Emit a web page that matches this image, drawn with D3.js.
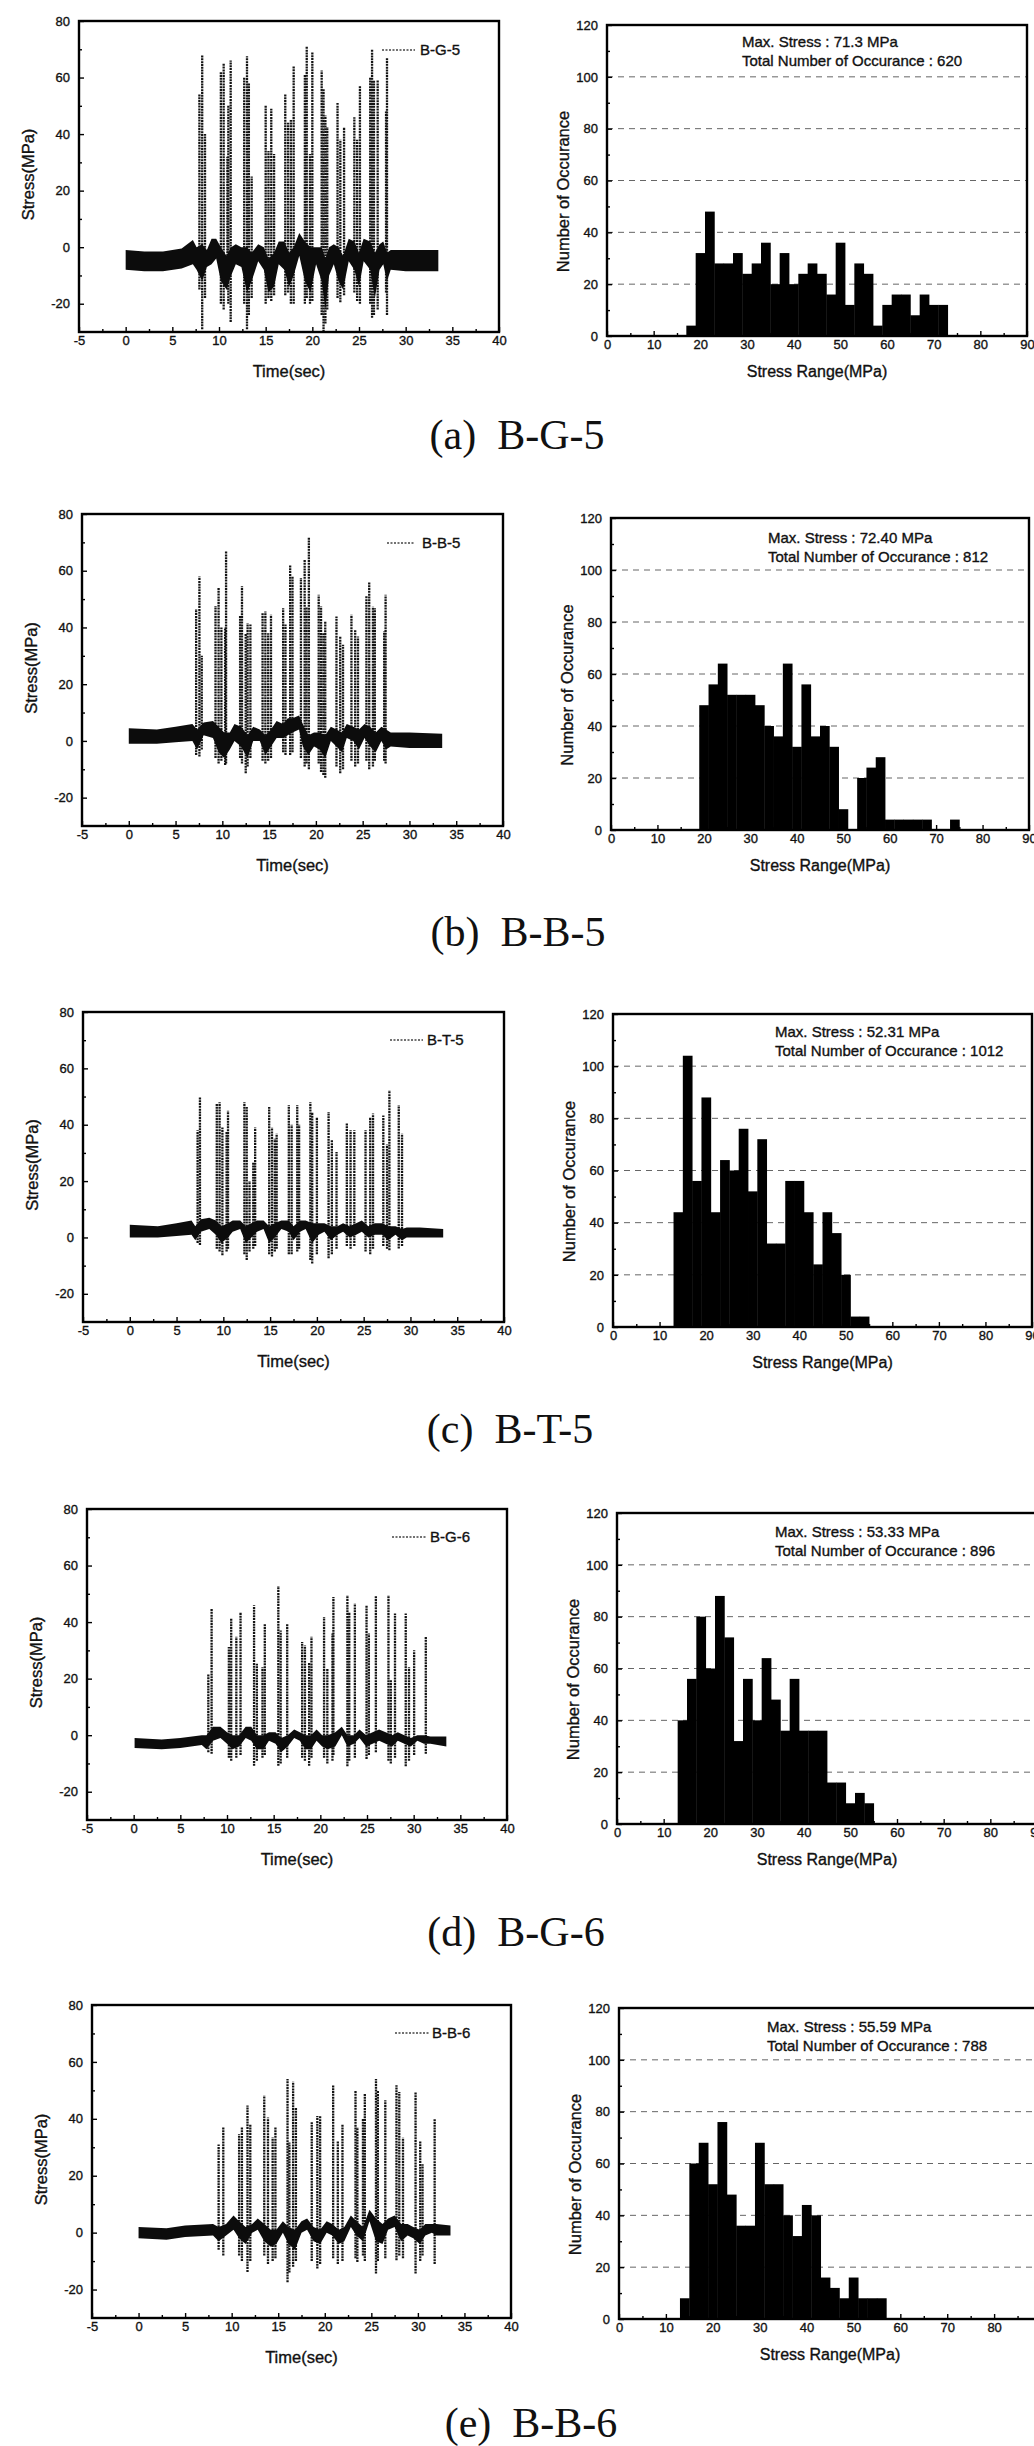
<!DOCTYPE html>
<html><head><meta charset="utf-8">
<script src="https://cdn.jsdelivr.net/npm/d3@7"></script>
<style>body{margin:0;background:#fff}svg{display:block}</style>
</head><body>
<script>
// ---------------- DATA ----------------
const timeXTicks = [-5,0,5,10,15,20,25,30,35,40];
const timeXMinor = [-2.5,2.5,7.5,12.5,17.5,22.5,27.5,32.5,37.5];
const timeYTicks = [-20,0,20,40,60,80];
const timeYMinor = [-10,10,30,50,70];
const histXTicks = [0,10,20,30,40,50,60,70,80,90];
const histXMinor = [5,15,25,35,45,55,65,75,85];
const histYTicks = [0,20,40,60,80,100,120];
const histYMinor = [10,30,50,70,90,110];
const histGrid = [20,40,60,80,100];
const binWidth = 2;

const seriesNames = ["B-G-5","B-B-5","B-T-5","B-G-6","B-B-6"];
const captions = ["(a)  B-G-5","(b)  B-B-5","(c)  B-T-5","(d)  B-G-6","(e)  B-B-6"];
const maxStress = ["71.3","72.40","52.31","53.33","55.59"];
const totals = ["620","812","1012","896","788"];

// histogram counts (first bin start, 2 MPa bins)
const histA_lo = 17;
const histA = [4,32,48,28,28,32,24,28,36,20,32,20,24,28,24,16,36,12,28,24,4,12,16,16,8,16,12,12];
const histB_lo = 19;
const histB = [48,56,64,52,52,52,48,40,36,64,32,56,36,40,32,8,0,20,24,28,4,4,4,4,4,0,0,4];
const histC_lo = 13;
const histC = [44,104,56,88,44,64,60,76,52,72,32,32,56,56,44,24,44,36,20,4,4];
const histD_lo = 13;
const histD = [40,56,80,60,88,72,32,56,40,64,48,36,56,36,36,36,16,16,8,12,8];
const histE_lo = 13;
const histE = [8,60,68,52,76,48,36,36,68,52,52,40,32,44,40,16,12,8,16,8,8,8];

// dense baseline band of the stress record: [time, low, high]
const bandA = [[0,-8,-1],[2,-8.5,-1.5],[4,-8.5,-1.5],[6,-7.5,-0.5],[7.2,-6,2.5],[7.6,-8,0],[8.2,-12,1],[8.7,-7,-1],[9.2,-6,3],[9.7,-4,3],[10.2,-12,0],[10.8,-15,-3],[11.3,-10,0],[11.8,-6,1],[12.4,-7,0],[13,-16,0],[13.5,-12,-2],[14.2,-5,1],[14.8,-8,0],[15.3,-16,-4],[15.9,-14,-2],[16.4,-6,2],[17,-8,2],[17.5,-14,-2],[18,-10,0],[18.6,-3,5],[19.2,-12,2],[19.8,-16,0],[20.4,-6,0],[21,-12,0],[21.4,-22,-4],[21.8,-10,0],[22.3,-6,1],[22.8,-12,0],[23.3,-15,-3],[23.9,-5,3],[24.5,-8,2],[25,-14,-2],[25.5,-5,3],[26.2,-8,2],[26.7,-18,-2],[27.2,-8,1],[27.6,-6,2],[28,-12,-2],[28.4,-8,-1],[30,-8.5,-1],[32,-8.5,-1],[33.5,-8.5,-1]];
const bandB = [[0,-1,4.5],[3,-1,4],[5,-0.5,5],[6.8,0,6],[7.3,-3,4],[8,2,6.5],[9,1,7],[9.6,-4,5],[10.2,-6,3],[10.8,-3,3],[11.3,0,6],[12,-2,5],[12.7,-6,2],[13.3,0,5],[14,0,4],[14.6,-5,2],[15.2,-2,4],[15.8,1,7],[16.5,1,6],[17,2,8],[17.5,3,8],[18.2,4,9],[18.6,-2,6],[19.2,-5,2],[19.8,-2,3],[20.4,-3,3],[21,-6,2],[21.6,0,5],[22.2,-2,4],[22.8,-4,3],[23.3,1,6],[24,0,5],[24.6,-3,4],[25.2,1,6],[25.8,-2,5],[26.4,-4,3],[27,0,5],[27.5,-3,4],[28,-2,3],[30,-2.5,3],[33.5,-2.5,2.5]];
const bandC = [[0,0,4.5],[3,0,4],[5,0.5,5],[6.6,1,6],[7,-1,4],[7.6,2,6.5],[8.5,3,7],[9.2,1,6],[9.8,-2,4],[10.5,0,5],[11,2,6],[11.8,3,6],[12.4,-2,4],[13,0,5],[13.6,2,6],[14.3,3,6],[14.9,-2,4],[15.5,0,5],[16.2,3,6],[17,2,6],[17.5,-1,4],[18.2,2,6],[18.8,3,6],[19.5,-2,5],[20.2,1,5],[20.8,2,5],[21.5,-1,4],[22.2,1,4],[22.8,2,5],[23.5,0,4],[24.2,1,5],[24.8,2,6],[25.5,0,4],[26.2,1,5],[27,1,5],[27.6,-1,4],[28.4,1,4],[29.1,-1,3],[29.6,0,3.5],[31,0,3.5],[33.5,0,3]];
const bandD = [[0.1,-4.5,-1],[3,-5,-1.5],[5,-4.5,-1],[7.3,-3.5,0],[7.8,-5,0],[8.5,-2,3],[9.3,-1,3],[10,-3,1],[10.6,-5,0],[11.3,-4,0],[12,-1,3],[12.6,-2,3],[13.2,-5,0],[13.9,-5,0],[14.5,-2,1],[15.2,-3,1],[15.8,-6,-1],[16.5,-4,0],[17.2,-1,2],[17.8,-2,1],[18.4,-5,0],[19,-5,0],[19.6,-2,2],[20.2,-4,0],[20.8,-5,0],[21.6,-4,1],[22.3,0,3],[22.9,-4,0],[23.6,-3,0],[24.2,-1,2],[24.9,-4,0],[25.6,-3,1],[26.3,-2,2],[27,-3,1],[27.7,-4,0],[28.3,-2,1],[29,-3,0],[29.7,-4,-1],[30.4,-2,0],[31.1,-3,0],[31.8,-3,-0.5],[33.5,-4,-0.5]];
const bandE = [[0,-2,2],[3,-2.5,1.5],[5,-1.5,2.5],[8,-1,3],[8.6,-3,2],[9.4,-1,3],[10.2,1,6],[10.8,-2,4],[11.5,-4,2],[12.2,0,3],[12.8,1,5],[13.5,-3,3],[14.2,-5,1],[14.8,-4,1],[15.5,0,4],[16.1,-4,2],[16.8,-6,1],[17.5,0,4],[18.1,1,5],[18.8,-3,2],[19.5,-4,1],[20.2,0,4],[20.8,-1,3],[21.5,-4,1],[22.1,-3,2],[22.8,2,6],[23.4,-1,4],[24.1,-3,2],[24.8,4,8],[25.5,-3,5],[26.2,-4,3],[26.8,1,5],[27.5,2,6],[28.2,-3,3],[28.9,-1,3],[29.5,-2,2],[30.2,-4,1],[30.8,-1,3],[31.5,0,3],[32,-1,3],[33.5,-1,2.5]];

// stress spikes: [time, max, min]
const spikesA = [[7.9,54,-15],[8.2,68,-29],[8.5,40,-18],[10.2,62,-20],[10.5,65,-22],[10.9,32,-15],[11.0,50,-20],[11.25,66,-26.5],[12.7,60,-20],[13.0,67.5,-29],[13.2,58,-24],[13.5,25,-18],[15.0,50,-20],[15.3,34,-18],[15.6,49,-19],[15.9,33,-17],[17.1,54,-17],[17.4,44,-16],[17.7,45,-20],[18.0,64,-20],[19.2,61,-20],[19.4,71,-18],[19.75,33,-20],[20.0,69,-19],[21.0,62.5,-24],[21.2,56,-30],[21.4,46.6,-27],[21.6,42.5,-22],[22.7,51,-18],[23.0,38,-19.5],[23.4,42.5,-17],[24.5,46,-16],[24.8,38,-19],[25.1,57,-20],[26.2,60,-20],[26.4,70,-25],[26.6,59,-24],[27.0,59,-22],[27.9,48,-16],[28.0,67,-24]];
const spikesB = [[7.2,46.5,-5],[7.55,58,-5.5],[7.8,30,-3],[9.27,47.6,-6],[9.6,54,-8],[9.9,40,-7],[10.3,40,-8.5],[10.4,66.8,-8],[11.9,44,-6],[12.1,54.5,-8],[12.5,38,-11.4],[12.7,41.5,-9],[13.0,41,-6],[14.3,45.3,-7],[14.6,45.6,-8],[14.9,38,-7],[15.2,44.5,-6],[16.5,46.8,-4],[16.75,41,-5],[17.25,62,-5],[17.5,58,-4],[18.4,57.4,-6],[18.8,63.9,-9],[19.0,47,-8],[19.25,72,-10],[20.3,51.5,-8],[20.55,47.4,-11],[20.8,38,-12],[21.0,42,-13],[22.2,43.9,-9],[22.6,36.8,-11.4],[22.9,33.9,-10],[23.8,44.5,-7],[24.2,39,-9],[24.5,36.8,-8],[25.4,51,-7],[25.7,56,-10],[26.1,47.4,-9],[26.3,46.8,-7],[27.3,38.6,-7],[27.45,51.5,-8]];
const spikesC = [[7.25,38,-2],[7.5,49.8,-2.7],[9.3,47.5,-4],[9.6,48,-5],[9.9,39,-6.3],[10.35,37.4,-5],[10.5,45,-4],[12.25,48,-6],[12.5,46.3,-8],[12.8,20,-5],[13.2,26.8,-4],[13.4,39,-3],[14.9,46.3,-6],[15.2,39,-6.8],[15.5,35,-5],[15.7,36.8,-4],[17.0,46.9,-6],[17.3,40,-6],[17.9,46.9,-5],[18.1,40,-4],[19.3,48,-8],[19.5,44.5,-9.2],[20.0,42.7,-6],[21.25,44.5,-7.4],[21.6,34.5,-6],[22.1,30.3,-4],[23.2,40.4,-3],[23.6,38,-4],[24.0,38,-3],[25.2,38,-5],[25.7,42.7,-6],[26.0,44,-4],[27.1,43.3,-3],[27.5,33,-4],[27.75,52.2,-4.5],[28.75,46.9,-3.9],[29.1,36.8,-3]];
const spikesD = [[8.0,21.7,-6],[8.35,44.8,-6.6],[10.2,31.2,-8],[10.45,41.3,-9],[11.0,34.8,-8],[11.45,43.6,-7],[12.9,46,-10.8],[13.2,25.3,-9],[13.8,24,-8],[14.05,39.5,-7],[15.5,52.8,-10.8],[15.75,37,-10],[16.45,39.5,-8],[18.05,33,-8],[18.35,31.8,-9],[18.8,25.9,-10.8],[19.05,34.8,-8],[20.4,41.8,-8],[20.75,23.5,-10],[21.3,36,-9],[21.4,48.9,-7],[22.9,49.5,-11],[23.1,43.6,-9],[23.7,46.6,-8],[24.95,46,-8.4],[25.2,36,-7],[25.95,49.5,-6],[27.3,49.5,-9],[27.55,19.4,-10],[28.0,43,-8],[29.15,43,-11],[29.5,24,-9],[30.05,30,-7],[31.3,34.8,-6.6]];
const spikesE = [[8.6,31,-6],[9.1,37,-8],[10.8,34.6,-8],[11.1,37,-10],[11.7,44.7,-13.8],[12.0,38.2,-10],[13.5,48.2,-8],[13.9,40.5,-11],[14.4,33.4,-10],[14.7,37,-9],[16.0,54,-17.4],[16.2,31.7,-14],[16.6,53,-12],[16.9,44,-10],[18.6,38.8,-10],[19.2,41,-12.6],[19.5,41,-11],[20.9,51.8,-9],[21.4,32.3,-11],[21.9,38.2,-10],[23.3,50,-9],[23.5,37,-10.3],[24.1,40,-8],[24.3,48.8,-10],[25.5,54,-14.4],[25.7,50,-10],[26.5,46.5,-9],[27.7,51.8,-9.7],[28.0,49.4,-8],[28.4,33.4,-9],[29.75,49.4,-14.4],[30.25,32.3,-10],[30.5,24,-8],[31.8,40,-11]];

// ---------------- LAYOUT ----------------
const W = 1034, H = 2446;
const leftBoxes = [
  {x0:79,x1:499,y0:21,y1:332, leg:[382,415,50,420]},
  {x0:82,x1:503,y0:514,y1:826, leg:[387,415,543,422]},
  {x0:83,x1:504,y0:1012,y1:1322, leg:[390,423,1040,427]},
  {x0:87,x1:507,y0:1509,y1:1820, leg:[392,427,1537,430]},
  {x0:92,x1:511,y0:2005,y1:2318, leg:[395,430,2033,432]}
];
const rightBoxes = [
  {x0:607,x1:1027,y0:25,y1:336, tx:742, ty:47},
  {x0:611,x1:1029,y0:518,y1:830, tx:768, ty:543},
  {x0:613,x1:1032,y0:1014,y1:1327, tx:775, ty:1037},
  {x0:617,x1:1037,y0:1513,y1:1824, tx:775, ty:1537},
  {x0:619,x1:1041,y0:2008,y1:2319, tx:767, ty:2032}
];
const captionPos = [[517,449],[518,946],[510,1443],[516,1946],[531,2437]];

const SANS = "'Liberation Sans', Arial, Helvetica, sans-serif";
const SERIF = "'Liberation Serif', 'Times New Roman', serif";

const svg = d3.select("body").append("svg").attr("width", W).attr("height", H)
  .attr("viewBox", `0 0 ${W} ${H}`);
svg.append("rect").attr("width", W).attr("height", H).attr("fill", "#fff");
let clipCount = 0;

function ink(sel, size) {
  return sel.attr("font-family", SANS).attr("font-size", size).attr("fill", "#111")
    .attr("stroke", "#111").attr("stroke-width", 0.35);
}

function styleAxis(g) {
  g.select(".domain").remove();
  g.selectAll(".tick line").attr("stroke", "#000").attr("stroke-width", 1.4);
  ink(g.selectAll(".tick text"), 13);
}

function frameAndAxes(g, x, y, L, xt, xm, yt, ym) {
  g.append("g").attr("transform", `translate(0,${L.y1})`)
    .call(d3.axisBottom(x).tickValues(xt).tickSizeInner(-5).tickSizeOuter(0).tickPadding(4).tickFormat(d => String(d)))
    .call(styleAxis);
  g.append("g").attr("transform", `translate(0,${L.y1})`)
    .call(d3.axisBottom(x).tickValues(xm).tickSizeInner(-3).tickSizeOuter(0).tickFormat(""))
    .call(styleAxis);
  g.append("g").attr("transform", `translate(${L.x0},0)`)
    .call(d3.axisLeft(y).tickValues(yt).tickSizeInner(-5).tickSizeOuter(0).tickPadding(9).tickFormat(d => String(d)))
    .call(styleAxis);
  g.append("g").attr("transform", `translate(${L.x0},0)`)
    .call(d3.axisLeft(y).tickValues(ym).tickSizeInner(-3).tickSizeOuter(0).tickFormat(""))
    .call(styleAxis);
  g.append("rect").attr("x", L.x0).attr("y", L.y0).attr("width", L.x1 - L.x0).attr("height", L.y1 - L.y0)
    .attr("fill", "none").attr("stroke", "#000").attr("stroke-width", 2.4);
}

function clip(L) {
  const id = "clip" + (clipCount++);
  svg.append("clipPath").attr("id", id).append("rect")
    .attr("x", L.x0).attr("y", L.y0).attr("width", L.x1 - L.x0).attr("height", L.y1 - L.y0);
  return `url(#${id})`;
}

function drawTime(i, band, spikes) {
  const L = leftBoxes[i];
  const x = d3.scaleLinear().domain([-5, 40]).range([L.x0, L.x1]);
  const y = d3.scaleLinear().domain([-30, 80]).range([L.y1, L.y0]);
  const g = svg.append("g");
  const p = g.append("g").attr("clip-path", clip(L));
  p.selectAll("line.sp").data(spikes).join("line").attr("class", "sp")
    .attr("x1", d => x(d[0])).attr("x2", d => x(d[0]))
    .attr("y1", d => y(d[2])).attr("y2", d => y(d[1]))
    .attr("stroke", "#141414").attr("stroke-width", 2.3).attr("stroke-dasharray", "2,0.8");
  p.append("path").datum(band)
    .attr("d", d3.area().x(d => x(d[0])).y0(d => y(d[1])).y1(d => y(d[2])))
    .attr("fill", "#0c0c0c");
  frameAndAxes(g, x, y, L, timeXTicks, timeXMinor, timeYTicks, timeYMinor);
  // legend
  const lg = L.leg;
  g.append("line").attr("x1", lg[0]).attr("x2", lg[1]).attr("y1", lg[2]).attr("y2", lg[2])
    .attr("stroke", "#444").attr("stroke-width", 1.4).attr("stroke-dasharray", "2,1.5");
  ink(g.append("text").attr("x", lg[3]).attr("y", lg[2] + 5).text(seriesNames[i]), 15);
  // titles
  ink(g.append("text").attr("x", (L.x0 + L.x1) / 2).attr("y", L.y1 + 45).attr("text-anchor", "middle")
    .text("Time(sec)"), 16.5);
  const cy = (L.y0 + L.y1) / 2 - 2, cx = L.x0 - 51;
  ink(g.append("text").attr("transform", `translate(${cx + 6},${cy}) rotate(-90)`).attr("text-anchor", "middle")
    .text("Stress(MPa)"), 16.5);
}

function drawHist(i, lo, counts) {
  const L = rightBoxes[i];
  const x = d3.scaleLinear().domain([0, 90]).range([L.x0, L.x1]);
  const y = d3.scaleLinear().domain([0, 120]).range([L.y1, L.y0]);
  const g = svg.append("g");
  const p = g.append("g").attr("clip-path", clip(L));
  p.selectAll("line.gr").data(histGrid).join("line").attr("class", "gr")
    .attr("x1", L.x0).attr("x2", L.x1).attr("y1", d => y(d)).attr("y2", d => y(d))
    .attr("stroke", "#666").attr("stroke-width", 1).attr("stroke-dasharray", "6,5");
  p.selectAll("rect.bar").data(counts).join("rect").attr("class", "bar")
    .attr("x", (d, k) => x(lo + k * binWidth))
    .attr("width", (d, k) => x(lo + (k + 1) * binWidth) - x(lo + k * binWidth) + 0.4)
    .attr("y", d => y(d)).attr("height", d => y(0) - y(d))
    .attr("fill", "#000");
  frameAndAxes(g, x, y, L, histXTicks, histXMinor, histYTicks, histYMinor);
  ink(g.append("text").attr("x", L.tx).attr("y", L.ty).text(`Max. Stress : ${maxStress[i]} MPa`), 15);
  ink(g.append("text").attr("x", L.tx).attr("y", L.ty + 19).text(`Total Number of Occurance : ${totals[i]}`), 15);
  ink(g.append("text").attr("x", (L.x0 + L.x1) / 2).attr("y", L.y1 + 41).attr("text-anchor", "middle")
    .text("Stress Range(MPa)"), 16);
  const cy = (L.y0 + L.y1) / 2 + 11, cx = L.x0 - 44;
  ink(g.append("text").attr("transform", `translate(${cx + 6},${cy}) rotate(-90)`).attr("text-anchor", "middle")
    .text("Number of Occurance"), 16.5);
}

const bands = [bandA, bandB, bandC, bandD, bandE];
const spikes = [spikesA, spikesB, spikesC, spikesD, spikesE];
const histLo = [histA_lo, histB_lo, histC_lo, histD_lo, histE_lo];
const hists = [histA, histB, histC, histD, histE];

for (let i = 0; i < 5; i++) {
  drawTime(i, bands[i], spikes[i]);
  drawHist(i, histLo[i], hists[i]);
  svg.append("text").attr("x", captionPos[i][0]).attr("y", captionPos[i][1]).attr("text-anchor", "middle")
    .attr("font-family", SERIF).attr("font-size", 42).attr("fill", "#111")
    .attr("xml:space", "preserve").style("white-space", "pre").text(captions[i]);
}
</script>
</body></html>
